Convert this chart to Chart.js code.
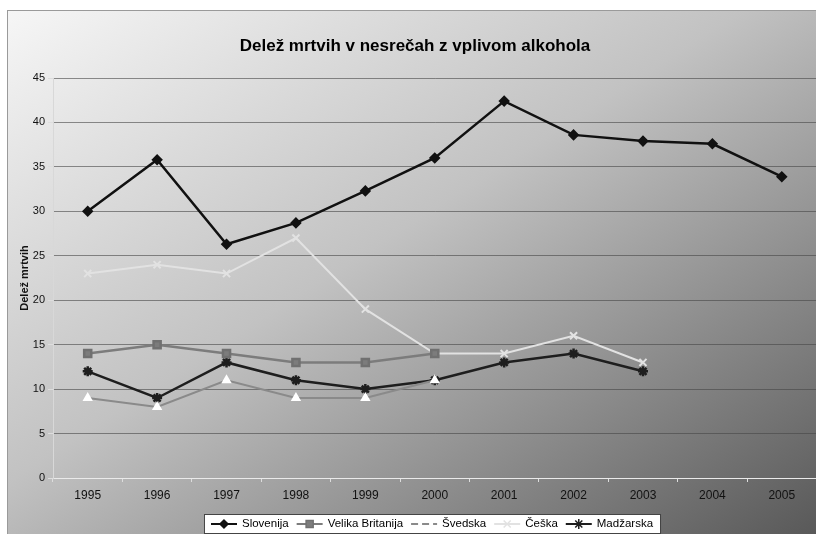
<!DOCTYPE html>
<html>
<head>
<meta charset="utf-8">
<script src="https://cdn.jsdelivr.net/npm/chart.js@4/dist/chart.umd.min.js"></script>
<style>
  html, body { margin: 0; padding: 0; background: #fff; overflow: hidden; }
  #wrap {
    position: absolute; left: 7px; top: 10px; width: 817px; height: 524px;
    background: linear-gradient(to bottom right, #f6f6f6 0%, #c2c2c2 45%, #585858 100%);
    border-top: 1px solid #9a9a9a; border-left: 1px solid #9a9a9a;
    box-sizing: border-box;
  }
  canvas { display: block; }
</style>
</head>
<body>
<div id="wrap"><canvas id="chart" width="816" height="523"></canvas></div>
<script>
// years on the x axis
const years = ['1995', '1996', '1997', '1998', '1999', '2000', '2001', '2002', '2003', '2004', '2005'];

// share of deaths in alcohol-related accidents (%)
const slovenija = [30, 35.8, 26.3, 28.7, 32.3, 36, 42.4, 38.6, 37.9, 37.6, 33.9];
const velikaBritanija = [14, 15, 14, 13, 13, 14];
const svedska = [9, 8, 11, 9, 9, 11];
const ceska = [23, 24, 23, 27, 19, 14, 14, 16, 13];
const madzarska = [12, 9, 13, 11, 10, 11, 13, 14, 12];

const yTicks = [0, 5, 10, 15, 20, 25, 30, 35, 40, 45];

const FONT = '"Liberation Sans", Arial, sans-serif';

// title + legend drawn the Excel way
const excelDecor = {
    id: 'excelDecor',
    afterDraw(chart) {
        const ctx = chart.ctx;
        ctx.save();
        ctx.fillStyle = '#000';
        ctx.font = 'bold 17px ' + FONT;
        ctx.textAlign = 'center';
        ctx.textBaseline = 'alphabetic';
        ctx.fillText('Delež mrtvih v nesrečah z vplivom alkohola', 407, 40);

        // legend
        ctx.font = '11.5px ' + FONT;
        const items = chart.data.datasets;
        const lineW = 26, gap = 5, itemGap = 8;
        let total = 0;
        items.forEach(ds => { total += lineW + gap + ctx.measureText(ds.label).width + itemGap; });
        total -= itemGap;
        const cx = 424, top = 503, h = 19;
        const x0 = cx - total / 2;
        ctx.fillStyle = '#fff';
        ctx.fillRect(x0 - 7, top, total + 14, h);
        ctx.strokeStyle = '#444';
        ctx.lineWidth = 1;
        ctx.strokeRect(x0 - 7 + 0.5, top + 0.5, total + 14, h);
        let x = x0;
        const cy = top + h / 2 + 0.5;
        items.forEach(ds => {
            ctx.save();
            ctx.strokeStyle = ds.borderColor;
            ctx.lineWidth = 2;
            ctx.setLineDash(ds.legendDash || []);
            ctx.beginPath();
            ctx.moveTo(x, cy);
            ctx.lineTo(x + lineW, cy);
            ctx.stroke();
            ctx.setLineDash([]);
            if (!ds.legendDash) {
                ctx.fillStyle = ds.pointBackgroundColor;
                ctx.strokeStyle = ds.pointBorderColor;
                ctx.lineWidth = 1.5;
                Chart.helpers.drawPoint(ctx, {
                    pointStyle: ds.pointStyle, radius: ds.pointRadius, rotation: 0, borderWidth: 1.5
                }, x + lineW / 2, cy);
            }
            ctx.restore();
            x += lineW + gap;
            ctx.fillStyle = '#000';
            ctx.textAlign = 'left';
            ctx.textBaseline = 'middle';
            ctx.fillText(ds.label, x, cy);
            x += ctx.measureText(ds.label).width + itemGap;
        });
        ctx.restore();
    }
};

new Chart(document.getElementById('chart'), {
    type: 'line',
    data: {
        labels: years,
        datasets: [{
            label: 'Slovenija',
            data: slovenija,
            borderColor: '#111',
            borderWidth: 2.5,
            pointStyle: 'rectRot',
            pointRadius: 4,
            pointBackgroundColor: '#111',
            pointBorderColor: '#111'
        },
        {
            label: 'Velika Britanija',
            data: velikaBritanija,
            borderColor: '#7c7c7c',
            borderWidth: 2.5,
            pointStyle: 'rect',
            pointRadius: 5,
            pointBackgroundColor: '#7c7c7c',
            pointBorderColor: '#707070'
        },
        {
            label: 'Švedska',
            data: svedska,
            borderColor: '#8a8a8a',
            borderWidth: 2,
            pointStyle: 'triangle',
            pointRadius: 4,
            pointBackgroundColor: '#fff',
            pointBorderColor: '#fff',
            legendDash: [7, 4]
        },
        {
            label: 'Češka',
            data: ceska,
            borderColor: '#e2e2e2',
            borderWidth: 2,
            pointStyle: 'crossRot',
            pointRadius: 5,
            pointBackgroundColor: '#e2e2e2',
            pointBorderColor: '#e2e2e2'
        },
        {
            label: 'Madžarska',
            data: madzarska,
            borderColor: '#1e1e1e',
            borderWidth: 2.5,
            pointStyle: 'star',
            pointRadius: 5,
            pointBackgroundColor: '#1e1e1e',
            pointBorderColor: '#1e1e1e'
        }]
    },
    options: {
        responsive: false,
        animation: false,
        events: [],
        elements: { line: { tension: 0 }, point: { borderWidth: 1.5 } },
        layout: { padding: { top: 67, bottom: 26, left: 0, right: 0 } },
        plugins: {
            legend: { display: false },
            title: { display: false },
            tooltip: { enabled: false }
        },
        scales: {
            x: {
                offset: true,
                grid: { offset: true, drawOnChartArea: false, color: '#ddd', tickLength: 4 },
                border: { color: '#eaeaea' },
                ticks: { color: '#111', font: { family: FONT, size: 12 }, padding: 6, maxRotation: 0 },
                afterFit(s) { s.height = 30; s.paddingLeft = 0; s.paddingRight = 0; }
            },
            y: {
                min: 0,
                max: 45,
                afterBuildTicks(s) { s.ticks = yTicks.map(v => ({ value: v })); },
                grid: { color: 'rgba(70,70,70,0.6)', tickColor: '#ddd', tickLength: 5 },
                border: { color: '#d8d8d8' },
                ticks: { color: '#111', font: { family: FONT, size: 11 }, padding: 3 },
                title: {
                    display: true,
                    text: 'Delež mrtvih',
                    color: '#111',
                    font: { family: FONT, size: 11, weight: 'bold' },
                    padding: { top: 10, bottom: 0 }
                },
                afterFit(s) { s.width = 45; }
            }
        }
    },
    plugins: [excelDecor]
});
</script>
</body>
</html>
